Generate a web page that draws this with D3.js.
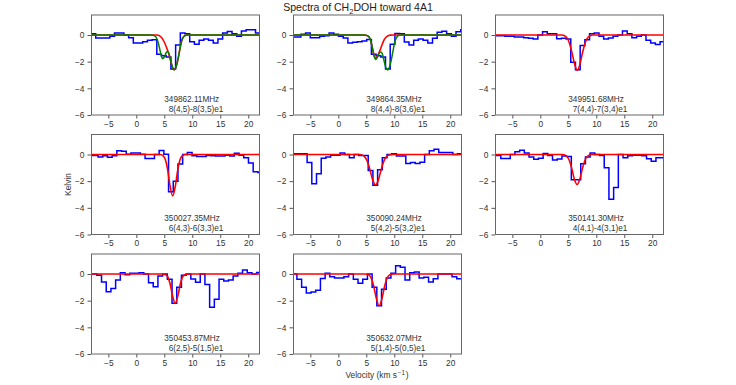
<!DOCTYPE html>
<html><head><meta charset="utf-8">
<script src="https://cdn.jsdelivr.net/npm/d3@7"></script>
<style>
html,body{margin:0;padding:0;background:#fff;}
svg text{font-family:"Liberation Sans",Arial,Helvetica,sans-serif;}
</style></head><body>
<svg id="chart" width="736" height="385"></svg>
<script>
// ---------------- data ----------------
const freqLabels = ["349862.11MHz","349864.35MHz","349951.68MHz","350027.35MHz","350090.24MHz","350141.30MHz","350453.87MHz","350632.07MHz"];
const transLabels = ["8(4,5)-8(3,5)e1","8(4,4)-8(3,6)e1","7(4,4)-7(3,4)e1","6(4,3)-6(3,3)e1","5(4,2)-5(3,2)e1","4(4,1)-4(3,1)e1","6(2,5)-5(1,5)e1","5(1,4)-5(0,5)e1"];
const chanWidth = 0.84;                       // km/s per channel
const chanStart = [-8.52,-8.79,-8.42,-8.94,-8.52,-8.32,-8.32,-8.66]; // first channel velocity

const spec1 = [0.1,0.1,-0.22,-0.22,-0.22,-0.1,0.15,0.15,0.0,-0.2,-0.6,-0.6,-0.5,-0.4,-0.35,-1.45,-1.55,-1.65,-2.55,-0.75,0.15,0.1,-0.5,-0.7,-0.4,-0.3,-0.4,-0.6,-0.3,0.15,0.27,0.1,-0.1,0.3,0.4,0.4,0.15,-0.15];
const spec2 = [-0.15,-0.15,-0.15,0.05,0.15,-0.2,-0.2,-0.1,-0.05,0.15,0.05,-0.1,-0.22,-0.6,-0.55,-0.5,-0.45,-0.33,-1.45,-1.55,-1.65,-2.55,-0.7,0.12,0.1,-0.52,-0.75,-0.4,-0.3,-0.4,-0.6,-0.25,0.2,0.28,0.1,-0.1,0.25,0.4];
const spec3 = [-0.05,-0.05,-0.05,-0.1,-0.1,-0.15,-0.15,-0.2,-0.25,-0.3,0.0,0.25,0.1,0.1,-0.28,-0.25,-0.3,-2.05,-2.6,-0.78,-0.35,0.1,0.15,-0.1,-0.3,-0.22,-0.1,0.0,0.3,0.1,-0.2,-0.1,0.0,-0.4,-0.6,-0.72,-0.5,-0.5];
const spec4 = [-0.08,-0.08,-0.08,-0.18,-0.1,-0.2,-0.1,0.28,0.25,0.02,0.12,0.12,0.02,-0.3,-0.3,0.0,0.3,0.02,-2.8,-2.0,-0.72,0.0,0.15,-0.1,-0.15,-0.15,-0.08,-0.1,-0.12,-0.12,-0.05,-0.12,0.1,-0.05,-0.25,-0.63,-1.3,-1.35];
const spec5 = [0.05,0.05,0.05,0.05,-0.6,-2.2,-1.45,-0.28,-0.18,-0.05,-0.05,0.12,0.0,-0.25,0.0,-0.08,-0.08,-1.2,-2.3,-1.15,-0.25,0.0,0.05,-0.12,-0.12,-0.68,-0.6,-0.68,-0.58,0.0,0.28,0.4,0.15,0.15,0.15,0.0,0.05,0.05];
const spec6 = [-0.08,-0.08,-0.3,-0.3,0.0,0.2,0.32,0.12,-0.18,-0.35,-0.28,0.08,-0.08,-0.42,-0.33,-0.12,-0.15,-1.9,-1.9,-0.7,-0.18,0.12,0.0,-0.08,-1.0,-3.35,-2.48,0.0,-0.25,-0.1,-0.05,-0.05,-0.1,-0.32,-0.5,-0.25,-0.25,-0.25];
const spec7 = [0.0,0.0,-0.1,-0.6,-1.33,-1.08,-0.45,0.1,-0.05,0.05,0.05,0.1,0.0,-0.65,-0.95,-0.15,0.0,-0.4,-2.2,-1.0,-0.1,0.0,-0.38,-0.62,0.0,-0.78,-2.5,-1.9,-0.4,-0.52,-0.45,-0.15,0.05,0.3,0.1,0.0,0.12,0.12];
const spec8 = [0.0,0.0,-0.4,-1.0,-1.42,-1.35,-1.22,-0.33,0.05,-0.2,-0.3,-0.3,-0.2,0.0,-0.4,-0.7,-0.4,0.0,-1.0,-2.38,-1.15,-0.3,0.05,0.62,0.5,-0.45,0.1,0.15,-0.3,-0.25,-0.6,-0.35,0.0,0.0,0.0,-0.2,-0.35,-0.35];

// fitted model curves as [velocity, T]
const fitRed1 = [[-8.1,0],[3.6,0],[4.3,-0.1],[4.9,-0.45],[5.5,-1.05],[5.9,-1.55],[6.3,-2.2],[6.75,-2.6],[7.05,-2.45],[7.4,-1.9],[7.7,-1.25],[8.0,-0.6],[8.4,-0.15],[9.0,0],[22.1,0]];
const fitGreen1 = [[-8.1,0],[2.6,0],[3.2,-0.05],[3.7,-0.3],[4.1,-0.9],[4.45,-1.55],[4.7,-1.78],[5.0,-1.65],[5.3,-1.35],[5.55,-1.23],[5.8,-1.35],[6.1,-1.85],[6.45,-2.4],[6.75,-2.62],[7.05,-2.45],[7.4,-1.9],[7.7,-1.25],[8.0,-0.6],[8.4,-0.15],[9.0,0],[22.1,0]];
const fitRed2 = [[-8.1,0],[4.6,0],[5.2,-0.05],[5.7,-0.3],[6.05,-0.9],[6.4,-1.55],[6.65,-1.75],[6.95,-1.6],[7.3,-1.3],[7.8,-0.75],[8.2,-0.35],[8.7,-0.1],[9.3,-0.01],[9.7,0],[22.1,0]];
const fitGreen2 = [[-8.1,0],[4.6,0],[5.2,-0.05],[5.7,-0.3],[6.05,-0.9],[6.4,-1.6],[6.65,-1.84],[6.95,-1.7],[7.25,-1.4],[7.55,-1.27],[7.85,-1.4],[8.15,-1.9],[8.5,-2.45],[8.8,-2.62],[9.1,-2.45],[9.45,-1.9],[9.75,-1.25],[10.05,-0.6],[10.45,-0.15],[11.0,0],[22.1,0]];
const fitRed3 = [[-8.1,0],[3.8,0],[4.4,-0.07],[4.9,-0.3],[5.3,-0.75],[5.7,-1.4],[6.1,-2.15],[6.6,-2.65],[7.1,-2.15],[7.5,-1.4],[7.9,-0.75],[8.3,-0.3],[8.8,-0.07],[9.4,0],[22.1,0]];
const fitRed4 = [[-8.1,0],[4.3,0],[4.8,-0.1],[5.2,-0.4],[5.6,-1.15],[6.0,-2.3],[6.5,-3.1],[7.0,-2.3],[7.4,-1.15],[7.8,-0.4],[8.2,-0.1],[8.7,0],[22.1,0]];
const fitRed5 = [[-8.1,0],[3.7,0],[4.05,-0.02],[4.65,-0.14],[5.15,-0.48],[5.65,-1.14],[6.15,-1.92],[6.65,-2.28],[7.15,-1.92],[7.65,-1.14],[8.15,-0.48],[8.65,-0.14],[9.25,-0.02],[9.6,0],[22.1,0]];
const fitRed6 = [[-8.1,0],[4.0,0],[4.57,-0.08],[5.07,-0.34],[5.57,-0.97],[6.07,-1.83],[6.57,-2.25],[7.07,-1.83],[7.57,-0.97],[8.07,-0.34],[8.57,-0.08],[9.1,0],[22.1,0]];
const fitRed7 = [[-8.1,0],[4.6,0],[5.25,-0.05],[5.65,-0.24],[6.05,-0.77],[6.45,-1.59],[6.95,-2.2],[7.45,-1.59],[7.85,-0.77],[8.25,-0.24],[8.65,-0.05],[9.2,0],[22.1,0]];
const fitRed8 = [[-8.1,0],[4.8,0],[5.3,-0.04],[5.8,-0.24],[6.3,-0.86],[6.8,-1.84],[7.3,-2.38],[7.8,-1.84],[8.3,-0.86],[8.8,-0.24],[9.3,-0.04],[9.8,0],[22.1,0]];

const xTicks = [-5,0,5,10,15,20];
const yTicks = [0,-2,-4,-6];
const xDomain = [-8.1, 22.1];
const yDomain = [-6, 1.5];

// ---------------- assemble ----------------
const spectra = [spec1,spec2,spec3,spec4,spec5,spec6,spec7,spec8];
const redFits = [fitRed1,fitRed2,fitRed3,fitRed4,fitRed5,fitRed6,fitRed7,fitRed8];
const greenFits = [fitGreen1,fitGreen2,null,null,null,null,null,null];

const svg = d3.select("#chart");
const colX = [91, 293, 495];
const rowY = [15, 134.5, 254];
const W = 169, H = 100;

const x = d3.scaleLinear().domain(xDomain).range([0, W]);
const y = d3.scaleLinear().domain(yDomain).range([H, 0]);
const fmt = d => d < 0 ? "\u2212" + Math.abs(d) : String(d);

const stepLine = d3.line().x(d => x(d[0])).y(d => y(d[1])).curve(d3.curveStep);
const fitLine = d3.line().x(d => x(d[0])).y(d => y(d[1])).curve(d3.curveMonotoneX);

spectra.forEach((spec, i) => {
  const col = i % 3, row = Math.floor(i / 3);
  const g = svg.append("g").attr("transform", `translate(${colX[col]},${rowY[row]})`);
  const clipId = "clip" + i;
  g.append("clipPath").attr("id", clipId).append("rect").attr("width", W).attr("height", H);

  const pts = spec.map((t, k) => [chanStart[i] + k * chanWidth, t]);
  const plot = g.append("g").attr("clip-path", `url(#${clipId})`);
  plot.append("path").datum(pts).attr("d", stepLine)
    .attr("fill", "none").attr("stroke", "#0000ff").attr("stroke-width", 1.5);
  plot.append("path").datum(redFits[i]).attr("d", fitLine)
    .attr("fill", "none").attr("stroke", "#ff0000").attr("stroke-width", 1.6);
  if (greenFits[i]) {
    plot.append("path").datum(greenFits[i]).attr("d", fitLine)
      .attr("fill", "none").attr("stroke", "#008000").attr("stroke-width", 1.5);
  }

  // axes
  const ax = g.append("g").attr("transform", `translate(0,${H})`)
    .call(d3.axisBottom(x).tickValues(xTicks).tickFormat(fmt).tickSize(3.5).tickPadding(2.5));
  const ay = g.append("g")
    .call(d3.axisLeft(y).tickValues(yTicks).tickFormat(fmt).tickSize(3.5).tickPadding(3));
  [ax, ay].forEach(a => {
    a.select(".domain").remove();
    a.selectAll(".tick line").attr("stroke", "#555");
    a.selectAll(".tick text").attr("fill", "#333").style("font-size", "8.4px")
      .style("font-family", '"Liberation Sans",Arial,sans-serif');
  });

  // frame
  g.append("rect").attr("x", 0.5).attr("y", 0).attr("width", W - 1).attr("height", H)
    .attr("fill", "none").attr("stroke", "#666").attr("stroke-width", 1);

  // labels
  const lab = g.append("text").attr("x", x(5)).attr("y", y(-5.0))
    .attr("fill", "#333").style("font-size", "8.2px");
  lab.append("tspan").text(freqLabels[i]);
  lab.append("tspan").attr("x", x(5)).attr("dx", 4.4).attr("dy", 10).text(transLabels[i]);
});

// title
const title = svg.append("text").attr("x", 358).attr("y", 11).attr("text-anchor", "middle")
  .attr("fill", "#222").style("font-size", "10.5px");
title.append("tspan").text("Spectra of CH");
title.append("tspan").attr("dy", 2.5).style("font-size", "7.5px").text("2");
title.append("tspan").attr("dy", -2.5).text("DOH toward 4A1");

// axis titles
svg.append("text").attr("transform", "translate(70.5,184.5) rotate(-90)").attr("text-anchor", "middle")
  .attr("fill", "#333").style("font-size", "8.4px").text("Kelvin");
const vl = svg.append("text").attr("x", 377).attr("y", 378).attr("text-anchor", "middle")
  .attr("fill", "#333").style("font-size", "8.4px");
vl.append("tspan").text("Velocity (km s");
vl.append("tspan").attr("dy", -3.5).attr("dx", 0.8).style("font-size", "6.3px").text("\u22121");
vl.append("tspan").attr("dy", 3.5).attr("dx", 0.8).text(")");
</script>
</body></html>
